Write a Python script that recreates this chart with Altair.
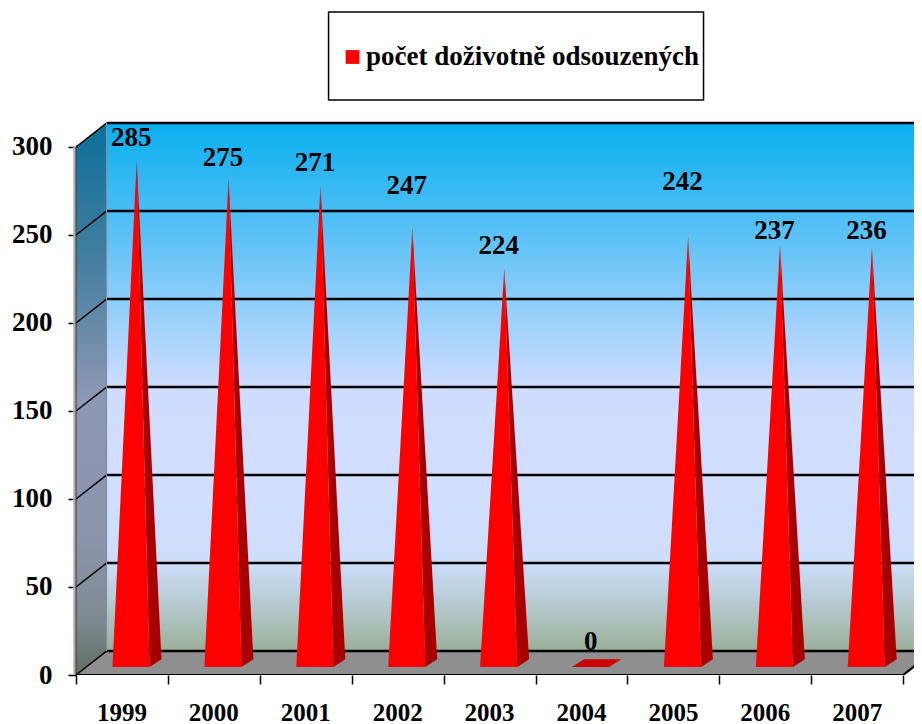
import altair as alt
import pandas as pd

years = [1999, 2000, 2001, 2002, 2003, 2004, 2005, 2006, 2007]
values = [285, 275, 271, 247, 224, 0, 242, 237, 236]
label_heights = [305, 294, 291, 278, 244, 19, 280, 252, 252]
series_name = "počet doživotně odsouzených"
y_ticks = [0, 50, 100, 150, 200, 250, 300]

FONT = "Liberation Serif"
FS = 27
X_MAX, Y_MAX = 9.118, 376.7
DX, DY = 0.332, 13.6          # 3D depth of the walls, in scale units
LIFT_F, LIFT_B, LIFT_A = 4.5, 9.0, 7.0
L, R, B, A = 0.397, 0.80, 0.93, 0.66

xs = alt.Scale(domain=[0, X_MAX], nice=False, zero=False)
ys = alt.Scale(domain=[0, Y_MAX], nice=False, zero=False)


def X(**k):
    return alt.X("x:Q", scale=xs, title=None, **k)


def Y(**k):
    return alt.Y("y:Q", scale=ys, title=None, stack=False, **k)


Y2 = alt.Y2("y2:Q")


def grad(stops):
    return alt.Gradient(
        gradient="linear", x1=0, x2=0, y1=0, y2=1,
        stops=[alt.GradientStop(offset=o, color=c) for o, c in stops],
    )


back = pd.DataFrame({"x": [DX, X_MAX], "y": [300 + DY] * 2, "y2": [DY] * 2})
side = pd.DataFrame({"x": [0, DX], "y": [300, 300 + DY], "y2": [0, DY]})
floor = pd.DataFrame({"x": [0, DX, 9, 9 + DX], "y": [0, DY, DY, DY], "y2": [0, 0, 0, DY]})

back_l = alt.Chart(back).mark_area(color=grad([
    (0, "#0aaff0"), (0.166, "#48bdf5"), (0.333, "#8ccdfa"), (0.5, "#cddcff"),
    (0.67, "#d2deff"), (0.83, "#cddefa"), (0.9, "#b9cdd7"), (1, "#9bb098"),
])).encode(x=X(axis=alt.Axis(
    values=list(range(10)), labels=False, domain=False, grid=False,
    tickSize=9, tickWidth=1.5, tickColor="#000000")),
    y=Y(axis=alt.Axis(
        values=y_ticks, domain=False, grid=False, tickSize=8, tickWidth=1.5,
        tickColor="#000000", labelFont=FONT, labelFontSize=FS,
        labelFontWeight="bold", labelColor="#000000", labelPadding=16)),
    y2=Y2)

side_l = alt.Chart(side).mark_area(color=grad([
    (0, "#0a6f99"), (0.25, "#447f9f"), (0.5, "#8f97b5"), (0.75, "#8d94ac"),
    (0.9, "#7f8a92"), (1, "#5f6f60"),
])).encode(x=X(), y=Y(), y2=Y2)

floor_l = alt.Chart(floor).mark_area(color="#8f8f8f", clip=True).encode(x=X(), y=Y(), y2=Y2)

back_lines = pd.DataFrame(
    [{"k": t, "x": x, "y": t + DY} for t in y_ticks for x in (DX, X_MAX)]
)
grid_l = alt.Chart(back_lines).mark_line(color="#000000", strokeWidth=2.4, clip=True).encode(
    x=X(), y=Y(), detail="k:N")
diag = pd.DataFrame(
    [{"k": t, "x": x, "y": t + d} for t in y_ticks for x, d in ((0, 0), (DX, DY))]
)
diag_l = alt.Chart(diag).mark_line(color="#000000", strokeWidth=1.5).encode(
    x=X(), y=Y(), detail="k:N")
edge = pd.DataFrame({"x": [DX, DX], "y": [DY, 300 + DY]})
edge_l = alt.Chart(edge).mark_line(color="#7f8f9f", strokeWidth=1.2).encode(x=X(), y=Y())
gray = pd.DataFrame({"x": [-0.016, -0.016], "y": [0, 300]})
gray_l = alt.Chart(gray).mark_line(color="#b0b0b0", strokeWidth=2.5).encode(x=X(), y=Y())
strip = pd.DataFrame({"x": [0.0, 0.0], "y": [0, 300]})
strip_l = alt.Chart(strip).mark_line(color="#333333", strokeWidth=1).encode(x=X(), y=Y())
front = pd.DataFrame({"k": [0, 0, 1, 1], "x": [0, 9, 9, 9 + DX], "y": [0, 0, 0, DY]})
front_l = alt.Chart(front).mark_line(color="#000000", strokeWidth=2.2, clip=True).encode(
    x=X(), y=Y(), detail="k:N")

box = pd.DataFrame({"x": [2.748], "x2": [6.828], "y": [326.7], "y2": [376.7]})
box_l = alt.Chart(box).mark_rect(fill="#ffffff", stroke="#000000", strokeWidth=1.5).encode(
    x=alt.X("x:Q", scale=xs, title=None), x2="x2:Q",
    y=alt.Y("y:Q", scale=ys, title=None), y2="y2:Q")

f_rows, s_rows, z_rows = [], [], []
for i, (yr, v) in enumerate(zip(years, values)):
    if v == 0:
        z_rows += [
            {"year": yr, "x": i + L, "y": LIFT_F, "y2": LIFT_F},
            {"year": yr, "x": i + L + (B - R), "y": LIFT_B, "y2": LIFT_F},
            {"year": yr, "x": i + R, "y": LIFT_B, "y2": LIFT_F},
            {"year": yr, "x": i + B, "y": LIFT_B, "y2": LIFT_B},
        ]
        continue
    top = v + LIFT_A
    f_rows += [
        {"year": yr, "x": i + L, "y": LIFT_F, "y2": LIFT_F, "series": series_name},
        {"year": yr, "x": i + A, "y": top, "y2": LIFT_F, "series": series_name},
        {"year": yr, "x": i + R, "y": LIFT_F, "y2": LIFT_F, "series": series_name},
    ]
    frac = (R - A) / (B - A)
    s_rows += [
        {"year": yr, "x": i + A, "y": top, "y2": top},
        {"year": yr, "x": i + R, "y": top + (LIFT_B - top) * frac, "y2": LIFT_F},
        {"year": yr, "x": i + B, "y": LIFT_B, "y2": LIFT_B},
    ]

side_faces = alt.Chart(pd.DataFrame(s_rows)).mark_area(color="#a80000").encode(
    x=X(), y=Y(), y2=Y2, detail="year:N")
front_faces = alt.Chart(pd.DataFrame(f_rows)).mark_area().encode(
    x=X(), y=Y(), y2=Y2, detail="year:N",
    color=alt.Color("series:N", scale=alt.Scale(domain=[series_name], range=["#ff0000"]),
                    legend=alt.Legend(
                        title=None, orient="none", legendX=263, legendY=31.5,
                        padding=0, symbolType="square", symbolSize=190,
                        symbolStrokeWidth=0, labelOffset=0, labelFont=FONT, labelFontSize=FS,
                        labelFontWeight="bold", labelColor="#000000", labelLimit=400)))
zero_faces = alt.Chart(pd.DataFrame(z_rows)).mark_area(color="#cc0000").encode(
    x=X(), y=Y(), y2=Y2, detail="year:N")

labels = pd.DataFrame({"x": [i + 0.6 for i in range(len(years))], "y": label_heights,
                       "t": [str(v) for v in values]})
label_l = alt.Chart(labels).mark_text(
    font=FONT, fontSize=FS, fontWeight="bold", color="#000000", baseline="middle"
).encode(x=X(), y=Y(), text="t:N")

year_labels = pd.DataFrame({"x": [i + 0.5 for i in range(len(years))], "y": [-21.6] * len(years),
                            "t": [str(y) for y in years]})
year_l = alt.Chart(year_labels).mark_text(
    font=FONT, fontSize=25, fontWeight="bold", color="#000000", baseline="middle"
).encode(x=X(), y=Y(), text="t:N")

chart = alt.layer(
    back_l, side_l, floor_l, grid_l, diag_l, edge_l, gray_l, strip_l, front_l, box_l,
    zero_faces, side_faces, front_faces, label_l, year_l,
).properties(
    width=838, height=663,
    autosize=alt.AutoSizeParams(type="none"),
    padding={"left": 68, "top": 4, "right": 0, "bottom": 49},
).configure_view(stroke=None)

chart.save("out.html", embed_options={"renderer": "svg", "actions": False})
